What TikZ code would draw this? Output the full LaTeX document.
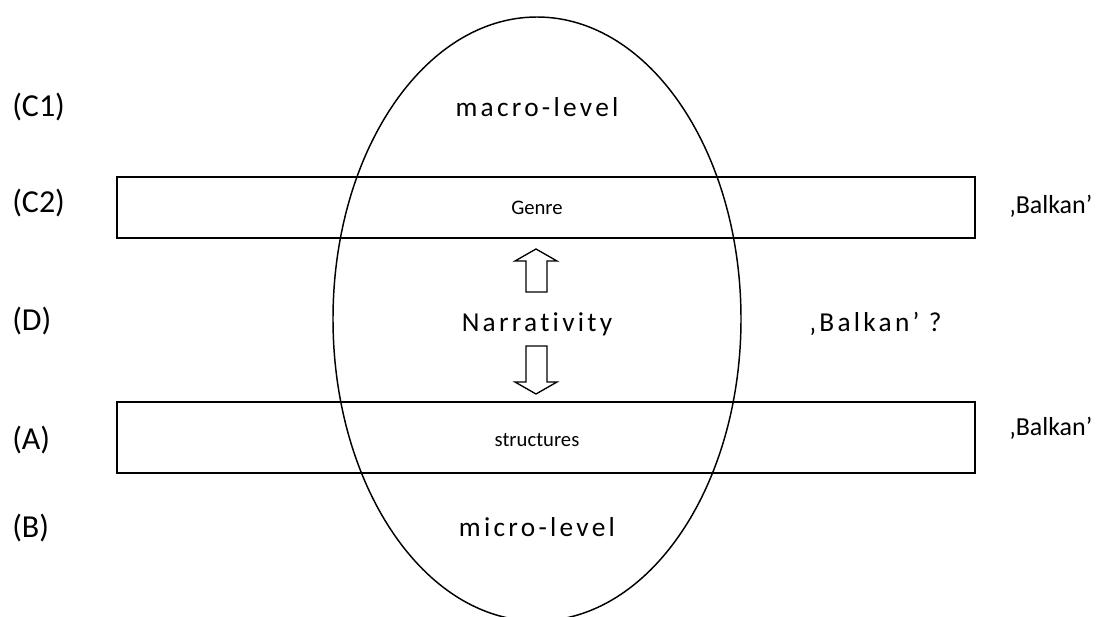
\documentclass[tikz,border=0pt]{standalone}
\usepackage{fontspec}
\setmainfont{Carlito}
\newfontfamily\spaced[LetterSpace=12,Ligatures=NoCommon]{Carlito}
\begin{document}
\begin{tikzpicture}[x=0.75pt,y=-0.75pt,
  lbl/.style={anchor=west,inner sep=0pt,font=\fontsize{24}{28}\selectfont},
  bk/.style={anchor=west,inner sep=0pt,font=\fontsize{19.5}{22}\selectfont},
  lvl/.style={inner sep=0pt,font=\spaced\fontsize{20.5}{24}\selectfont},
  inbox/.style={inner sep=0pt,font=\fontsize{15.5}{18}\selectfont},
  frame/.style={draw,line width=1.1pt},
  fat/.style={draw,line width=1pt,fill=white,line join=miter}]
\useasboundingbox (0,0) rectangle (1104,617);
\clip (0,0) rectangle (1104,617);
\fill[white] (0,0) rectangle (1104,617);
% ellipse
\draw[line width=1.1pt] (537,319) ellipse [x radius=204, y radius=302];
% bands
\node[frame,minimum width=858*0.75pt,minimum height=61*0.75pt,inner sep=0pt] (top) at (546,207.5) {};
\node[frame,minimum width=858*0.75pt,minimum height=71*0.75pt,inner sep=0pt] (bot) at (546,437.5) {};
\node[inbox] (genre) at (537,208) {Genre};
\node[inbox] (struct) at (537,440) {structures};
% level texts
\node[lvl] (macro) at (537,107) {macro-level};
\node[lvl] (narr) at (537,324) {Narrativity};
\node[lvl] (micro) at (537,527) {micro-level};
% block arrows
\draw[fat] (526,292) -- (526,261) -- (515,261) -- (536,249) -- (557,261) -- (547,261) -- (547,292) -- cycle;
\draw[fat] (526,346) -- (526,382) -- (515,382) -- (536,394) -- (557,382) -- (547,382) -- (547,346) -- cycle;
% left labels
\node[lbl] (c1) at (12,107) {(C1)};
\node[lbl] (c2) at (12,203) {(C2)};
\node[lbl] (d) at (12,321) {(D)};
\node[lbl] (a) at (12,440) {(A)};
\node[lbl] (b) at (12,528) {(B)};
% right labels
\node[bk] (bk1) at (1009,206) {‚Balkan’};
\node[bk] (bk2) at (1009,428) {‚Balkan’};
\node[lvl,anchor=west] (bk3) at (809,324) {‚Balkan’ ?};
\end{tikzpicture}
\end{document}
